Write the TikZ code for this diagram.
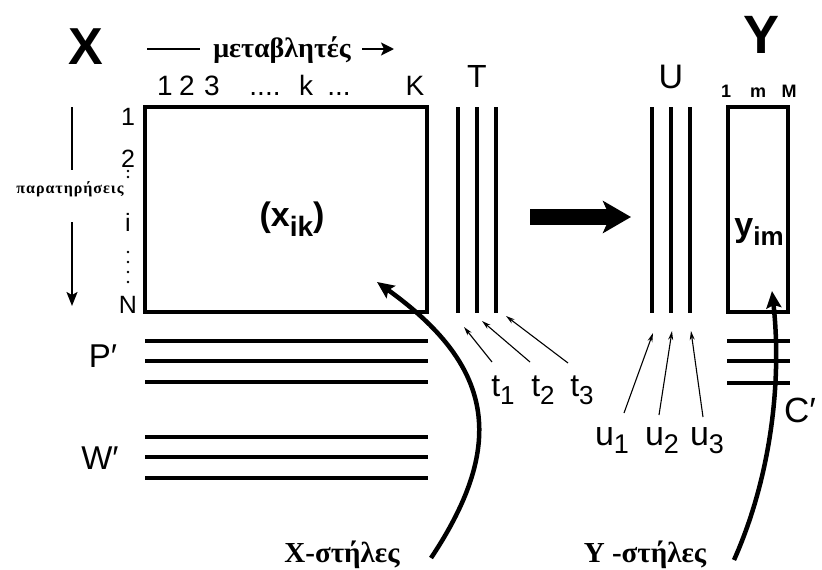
\documentclass[tikz,border=0pt]{standalone}
\usepackage{fontspec}
\setmainfont{Liberation Serif}
\setsansfont{Liberation Sans}
\newfontfamily\grksp[LetterSpace=6]{Liberation Serif}
\usetikzlibrary{arrows.meta}
\newcommand\fsz[1]{\fontsize{#1}{#1}\selectfont}
\begin{document}
\begin{tikzpicture}[x=1pt,y=-1pt,
  lab/.style={font=\sffamily, inner sep=0},
  grk/.style={font=\rmfamily\bfseries, inner sep=0},
  bar/.style={line width=3.5pt},
  thinarrow/.style={line width=1.1pt, -{Stealth[open,length=9pt,width=5pt]}},
  bigcurve/.style={line width=4.5pt, -{Stealth[length=17pt,width=15pt,inset=3pt]}},
  guide/.style={line width=2pt}
]
\useasboundingbox (0,0) rectangle (822,570);

% ---- X label and variables axis
\node[lab,font=\sffamily\bfseries\fsz{52}] (X) at (86,47) {X};
\coordinate (va0) at (147,49);
\coordinate (va1) at (200,49);
\draw[guide] (va0) -- (va1);
\node[grk,font=\rmfamily\bfseries\fsz{28}, anchor=base] (var) at (282,57) {μεταβλητές};
\coordinate (vb0) at (362,49);
\coordinate (vb1) at (394,49);
\draw[guide,-{Stealth[length=13pt,width=13pt,inset=3pt]}] (vb0) -- (vb1);

% column numbers
\node[lab,font=\sffamily\fsz{28},anchor=base] (c1) at (165,95) {1};
\node[lab,font=\sffamily\fsz{28},anchor=base] (c2) at (187,95) {2};
\node[lab,font=\sffamily\fsz{28},anchor=base] (c3) at (212,95) {3};
\node[lab,font=\sffamily\fsz{28},anchor=base] (cd1) at (265,95) {....};
\node[lab,font=\sffamily\fsz{28},anchor=base] (ck) at (306,95) {k};
\node[lab,font=\sffamily\fsz{28},anchor=base] (cd2) at (339,95) {...};
\node[lab,font=\sffamily\fsz{28},anchor=base] (cK) at (415,95) {K};

% ---- main matrix
\node[draw, line width=3.5pt, minimum width=282pt, minimum height=205pt, inner sep=0] (xmat) at (286,209.5) {};
\node[lab,font=\sffamily\bfseries\fsz{34}] (xik) at (292,219) {(x\raisebox{-10pt}{\fsz{28}ik})};

% row labels
\node[lab,font=\sffamily\fsz{25},anchor=base] (r1) at (128,125) {1};
\node[lab,font=\sffamily\fsz{25},anchor=base] (r2) at (128,167) {2};
\fill (128,171) circle (1.3pt);
\fill (128,177) circle (1.3pt);
\node[lab,font=\sffamily\fsz{25},anchor=base] (ri) at (128,231) {i};
\foreach \yy in {252,262,272,282} \fill (128,\yy) circle (1.3pt);
\node[lab,font=\sffamily\fsz{25},anchor=base] (rN) at (128,313) {N};

% observations axis
\coordinate (oa0) at (72,107);
\coordinate (oa1) at (72,170);
\draw[guide] (oa0) -- (oa1);
\node[font=\grksp\bfseries\fsz{16}, inner sep=0] (obs) at (70,189) {παρατηρήσεις};
\coordinate (ob0) at (72,222);
\coordinate (ob1) at (72,306);
\draw[guide,-{Stealth[length=14pt,width=11pt,inset=3pt]}] (ob0) -- (ob1);

% ---- T lines
\node[lab,font=\sffamily\fsz{32}] (T) at (477,76) {T};
\foreach \xx/\nm in {458/ta,477/tb,496/tc}{
  \coordinate (\nm0) at (\xx,107);
  \coordinate (\nm1) at (\xx,313);
  \draw[bar] (\nm0) -- (\nm1);
}

% ---- big arrow
\coordinate (ba0) at (530,217);
\coordinate (ba1) at (631,217);
\draw[line width=16pt,-{Stealth[length=28pt,width=32pt,inset=7pt]}] (ba0) -- (ba1);

% ---- U lines
\node[lab,font=\sffamily\fsz{34}] (U) at (671,77) {U};
\foreach \xx/\nm in {652/ua,671/ub,690/uc}{
  \coordinate (\nm0) at (\xx,107);
  \coordinate (\nm1) at (\xx,313);
  \draw[bar] (\nm0) -- (\nm1);
}

% ---- Y matrix
\node[lab,font=\sffamily\bfseries\fsz{54}] (Y) at (762,35) {Y};
\node[lab,font=\sffamily\bfseries\fsz{18},anchor=base] (m1) at (726,97) {1};
\node[lab,font=\sffamily\bfseries\fsz{18},anchor=base] (mm) at (758,97) {m};
\node[lab,font=\sffamily\bfseries\fsz{18},anchor=base] (mM) at (789,97) {M};
\node[draw, line width=3.5pt, minimum width=60pt, minimum height=205pt, inner sep=0] (ymat) at (758,209.5) {};
\node[lab,font=\sffamily\bfseries\fsz{34}] (yim) at (759,232) {y\raisebox{-9pt}{\fsz{26}im}};

% ---- P' and W' lines
\node[lab,font=\sffamily\fsz{33}] (P) at (103,356) {P′};
\foreach \yy/\nm in {341/pa,361/pb,382/pc}{
  \coordinate (\nm0) at (145,\yy);
  \coordinate (\nm1) at (428,\yy);
  \draw[bar] (\nm0) -- (\nm1);
}
\node[lab,font=\sffamily\fsz{33}] (W) at (100,458) {W′};
\foreach \yy/\nm in {437/wa,457/wb,478/wc}{
  \coordinate (\nm0) at (145,\yy);
  \coordinate (\nm1) at (428,\yy);
  \draw[bar] (\nm0) -- (\nm1);
}

% ---- C' lines
\foreach \yy/\nm in {341/ca,361/cb,383/cc}{
  \coordinate (\nm0) at (727,\yy);
  \coordinate (\nm1) at (790,\yy);
  \draw[bar] (\nm0) -- (\nm1);
}
\node[lab,font=\sffamily\fsz{35},anchor=west] (C) at (784,410) {C′};

% ---- t labels and arrows
\node[lab,font=\sffamily\fsz{32},anchor=base] (t1) at (503,396) {t\raisebox{-8pt}{\fsz{26}1}};
\node[lab,font=\sffamily\fsz{32},anchor=base] (t2) at (543,396) {t\raisebox{-8pt}{\fsz{26}2}};
\node[lab,font=\sffamily\fsz{32},anchor=base] (t3) at (582,396) {t\raisebox{-8pt}{\fsz{26}3}};
\coordinate (t1s) at (492,362); \coordinate (t1e) at (464,327);
\coordinate (t2s) at (530,362); \coordinate (t2e) at (482,321);
\coordinate (t3s) at (568,363); \coordinate (t3e) at (506,316);
\draw[thinarrow] (t1s) -- (t1e);
\draw[thinarrow] (t2s) -- (t2e);
\draw[thinarrow] (t3s) -- (t3e);

% ---- u labels and arrows
\node[lab,font=\sffamily\fsz{34},anchor=base] (u1) at (612,445) {u\raisebox{-8pt}{\fsz{27}1}};
\node[lab,font=\sffamily\fsz{34},anchor=base] (u2) at (662,445) {u\raisebox{-8pt}{\fsz{27}2}};
\node[lab,font=\sffamily\fsz{34},anchor=base] (u3) at (707,445) {u\raisebox{-8pt}{\fsz{27}3}};
\coordinate (u1s) at (624,413); \coordinate (u1e) at (653,333);
\coordinate (u2s) at (659,415); \coordinate (u2e) at (672,331);
\coordinate (u3s) at (703,417); \coordinate (u3e) at (691,331);
\draw[thinarrow] (u1s) -- (u1e);
\draw[thinarrow] (u2s) -- (u2e);
\draw[thinarrow] (u3s) -- (u3e);

% ---- bottom labels and curved arrows
\node[grk,font=\rmfamily\bfseries\fsz{29},anchor=base] (xs) at (342,562) {X-στήλες};
\node[grk,font=\rmfamily\bfseries\fsz{29},anchor=base] (ys) at (645,562) {Y -στήλες};
\coordinate (xc0) at (431,558);
\coordinate (xc1) at (377,282);
\draw[bigcurve] (xc0) .. controls (509,441) and (491,364) .. (xc1);
\coordinate (yc0) at (734,560);
\coordinate (yc1) at (772,291);
\draw[bigcurve] (yc0) .. controls (771,477) and (782,381) .. (yc1);
\end{tikzpicture}
\end{document}
